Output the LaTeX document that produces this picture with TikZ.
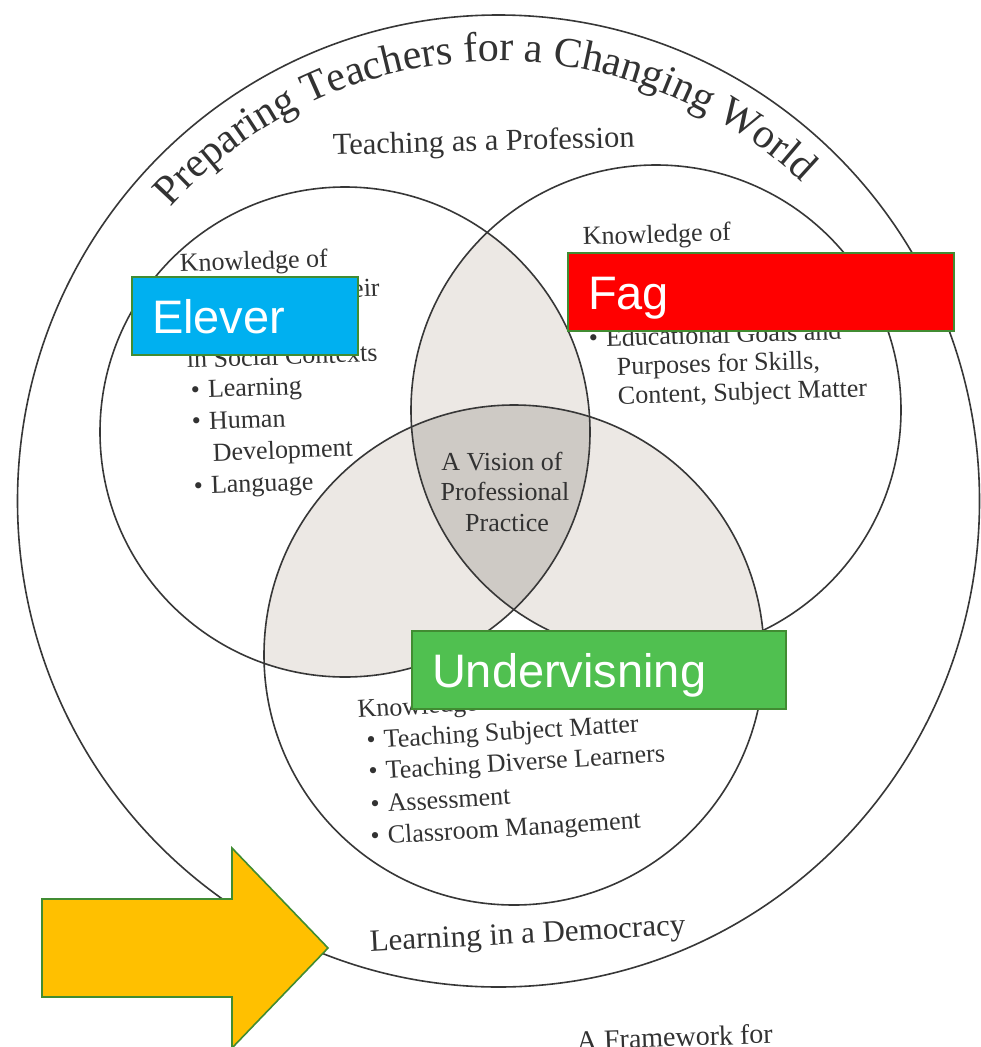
\documentclass[tikz,border=0pt]{standalone}
\usepackage{fontspec}
\setmainfont{Liberation Serif}
\newfontfamily\tagfont{Liberation Sans}
\usetikzlibrary{decorations.text}
\definecolor{ink}{RGB}{50,50,50}
\definecolor{lineink}{RGB}{55,55,55}
\definecolor{lensgrey}{RGB}{236,232,228}
\definecolor{coregrey}{RGB}{206,202,197}
\definecolor{cyanbox}{RGB}{0,176,240}
\definecolor{redbox}{RGB}{255,0,0}
\definecolor{greenbox}{RGB}{80,192,80}
\definecolor{boxedge}{RGB}{65,140,50}
\definecolor{arrowfill}{RGB}{255,192,0}
\newcommand{\curvefont}{\fontsize{42}{42}\selectfont\color{ink}}
\newcommand{\bul}{\textbullet\hspace{8pt}}
\begin{document}
\begin{tikzpicture}[x=1pt,y=1pt,
  ring/.style={draw=lineink, line width=1.6pt},
  booktext/.style={text=ink, inner sep=0pt, font=\fontsize{26}{30}\selectfont},
  txtline/.style={booktext, anchor=base west},
  bigtext/.style={text=ink, inner sep=0pt, anchor=base, font=\fontsize{31}{34}\selectfont},
  tagbox/.style={draw=boxedge, line width=2pt, anchor=north west, inner xsep=20pt, inner ysep=0pt,
    minimum height=78pt, text height=40pt, text depth=5pt, align=left, text=white,
    font=\tagfont\fontsize{47}{50}\selectfont},
  arrowshape/.style={fill=arrowfill, draw=boxedge, line width=1.6pt, line join=miter}
]
\useasboundingbox (0,0) rectangle (981,-1047);
\fill[white] (0,0) rectangle (981,-1047);

% centres
\coordinate (oc) at (498.5,-501);
\coordinate (cL) at (345,-432);
\coordinate (cR) at (656,-410);
\coordinate (cB) at (514,-655);

% outer ring
\draw[ring] (oc) ellipse [x radius=481, y radius=486];

% shading of overlaps
\begin{scope}
  \clip (cL) circle[radius=245];
  \fill[lensgrey] (cR) circle[radius=245];
  \fill[lensgrey] (cB) circle[radius=250];
\end{scope}
\begin{scope}
  \clip (cR) circle[radius=245];
  \fill[lensgrey] (cB) circle[radius=250];
\end{scope}
\begin{scope}
  \clip (cL) circle[radius=245];
  \clip (cR) circle[radius=245];
  \fill[coregrey] (cB) circle[radius=250];
\end{scope}

% three circles
\draw[ring] (cL) circle[radius=245];
\draw[ring] (cR) circle[radius=245];
\draw[ring] (cB) circle[radius=250];

% curved title
\path[decorate, decoration={text along path, text align=center,
  text={|\curvefont|Preparing Teachers for a Changing World}}]
  (oc) ++(150:440) arc[start angle=150, end angle=34.6, radius=440];

\node[bigtext, rotate=1.5, font=\fontsize{30.5}{34}\selectfont] (profession) at (484,-151) {Teaching as a Profession};
\node[bigtext, rotate=3] (democracy) at (528,-943) {Learning in a Democracy};
\node[bigtext, anchor=base west, rotate=2, font=\fontsize{28}{32}\selectfont] (framework) at (577,-1050) {A Framework for};

% left circle text
\node[txtline, rotate=2] (l1) at (180,-272) {Knowledge of};
\node[txtline, rotate=2] (l2) at (182,-303) {Learners and Their};
\node[txtline, rotate=2] (l3) at (184,-335) {Development};
\node[txtline, rotate=2] (l4) at (187,-368) {in Social Contexts};
\node[txtline, rotate=2] (l5) at (191,-398) {\bul Learning};
\node[txtline, rotate=2] (l6) at (192,-430) {\bul Human};
\node[txtline, rotate=2] (l7) at (213,-461) {Development};
\node[txtline, rotate=2] (l8) at (194,-494) {\bul Language};

% right circle text
\node[txtline, rotate=1.7] (r1) at (583,-245) {Knowledge of};
\node[txtline, rotate=1.7] (r2) at (584,-277) {Subject Matter and};
\node[txtline, rotate=1.7] (r3) at (585,-309) {Curriculum Goals};
\node[txtline, rotate=1.7] (r4) at (589,-347) {\bul Educational Goals and};
\node[txtline, rotate=1.7] (r5) at (617,-375) {Purposes for Skills,};
\node[txtline, rotate=1.7] (r6) at (618,-404) {Content, Subject Matter};

% bottom circle text
\node[txtline, rotate=3.6] (b1) at (358,-718) {Knowledge of Teaching};
\node[txtline, rotate=3.6] (b2) at (367,-749) {\bul Teaching Subject Matter};
\node[txtline, rotate=3.6] (b3) at (369,-780) {\bul Teaching Diverse Learners};
\node[txtline, rotate=3.6] (b4) at (371,-813) {\bul Assessment};
\node[txtline, rotate=3.6] (b5) at (371,-845) {\bul Classroom Management};

% centre text
\node[booktext, anchor=base] (c1) at (502,-470) {A Vision of};
\node[booktext, anchor=base] (c2) at (505,-500) {Professional};
\node[booktext, anchor=base] (c3) at (507,-531) {Practice};

% coloured labels
\node[tagbox, fill=cyanbox, text width=186pt] (elever) at (131,-276) {Elever};
\node[tagbox, fill=redbox, text width=346pt] (fag) at (567,-252) {Fag};
\node[tagbox, fill=greenbox, text width=334pt] (undervisning) at (411,-630) {Undervisning};

% arrow
\draw[arrowshape] (42,-899) -- (232,-899) -- (232,-848) -- (328,-948)
  -- (232,-1048) -- (232,-997) -- (42,-997) -- cycle;
\end{tikzpicture}
\end{document}
